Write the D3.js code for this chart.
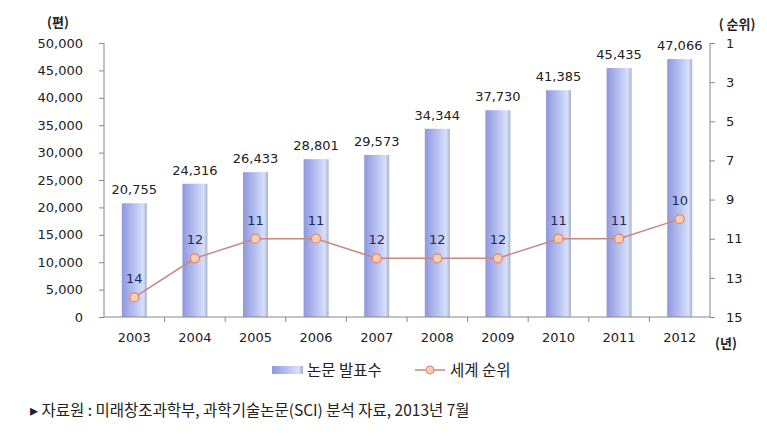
<!DOCTYPE html>
<html>
<head>
<meta charset="utf-8">
<script src="https://cdn.jsdelivr.net/npm/d3@7"></script>
<style>
  body { margin: 0; background: #fff; }
  svg { font-family: "DejaVu Sans", "Noto Sans CJK KR", sans-serif; }
  .axis text { font-size: 13px; fill: #222; font-family: "DejaVu Sans", sans-serif; }
  .axis path, .axis line { stroke: #888; }
  .kr { font-family: "Noto Sans CJK KR", sans-serif; }
</style>
</head>
<body>
<svg id="chart" width="767" height="437"></svg>
<script>
var years  = ["2003", "2004", "2005", "2006", "2007", "2008", "2009", "2010", "2011", "2012"];
var papers = [20755, 24316, 26433, 28801, 29573, 34344, 37730, 41385, 45435, 47066];
var ranks  = [14, 12, 11, 11, 12, 12, 12, 11, 11, 10];
var leftTicks  = [0, 5000, 10000, 15000, 20000, 25000, 30000, 35000, 40000, 45000, 50000];
var rightTicks = [1, 3, 5, 7, 9, 11, 13, 15];

var svg = d3.select("#chart");
var plotLeft = 104, plotRight = 710, plotTop = 43, plotBottom = 317;

var x = d3.scaleBand().domain(years).range([plotLeft, plotRight]);
var yL = d3.scaleLinear().domain([0, 50000]).range([plotBottom, plotTop]);
var yR = d3.scaleLinear().domain([15, 1]).range([plotBottom, plotTop]);

var defs = svg.append("defs");
var grad = defs.append("linearGradient").attr("id", "barGrad")
  .attr("x1", "0%").attr("x2", "100%").attr("y1", "0%").attr("y2", "0%");
grad.append("stop").attr("offset", "0%").attr("stop-color", "#8f98dc");
grad.append("stop").attr("offset", "45%").attr("stop-color", "#b4bdf0");
grad.append("stop").attr("offset", "85%").attr("stop-color", "#d6e0fa");
grad.append("stop").attr("offset", "100%").attr("stop-color", "#a9b2c4");

var barW = 25;
function cx(i) { return x(years[i]) + x.bandwidth() / 2; }

// bars
svg.append("g").selectAll("rect")
  .data(papers)
  .enter().append("rect")
  .attr("x", function(d, i) { return cx(i) - barW / 2; })
  .attr("y", function(d) { return yL(d); })
  .attr("width", barW)
  .attr("height", function(d) { return plotBottom - yL(d); })
  .attr("fill", "url(#barGrad)");

// bar value labels
svg.append("g").selectAll("text")
  .data(papers)
  .enter().append("text")
  .attr("x", function(d, i) { return cx(i); })
  .attr("y", function(d) { return yL(d) - 9; })
  .attr("text-anchor", "middle")
  .style("font-size", "13px")
  .attr("fill", "#222")
  .text(function(d) { return d3.format(",")(d); });

// axes
svg.append("g")
  .attr("class", "axis")
  .attr("transform", "translate(" + plotLeft + ",0)")
  .call(d3.axisLeft(yL).tickValues(leftTicks).tickFormat(d3.format(",")).tickSize(5).tickPadding(16))
  .call(function(g) { g.select(".domain").attr("d", "M0," + plotTop + "V" + plotBottom); });

svg.append("g")
  .attr("class", "axis")
  .attr("transform", "translate(" + plotRight + ",0)")
  .call(d3.axisRight(yR).tickValues(rightTicks).tickSize(5).tickPadding(11))
  .call(function(g) { g.select(".domain").attr("d", "M0," + plotTop + "V" + plotBottom); });

var xAxis = svg.append("g")
  .attr("class", "axis")
  .attr("transform", "translate(0," + plotBottom + ")")
  .call(d3.axisBottom(x).tickSize(0).tickPadding(16));
xAxis.select(".domain").attr("d", "M" + plotLeft + ",0H" + plotRight);
xAxis.selectAll(".sep")
  .data(years.slice(1))
  .enter().append("line")
  .attr("class", "sep")
  .attr("x1", function(d) { return x(d); })
  .attr("x2", function(d) { return x(d); })
  .attr("y1", 0).attr("y2", 5)
  .attr("stroke", "#888");

// rank line
var line = d3.line()
  .x(function(d, i) { return cx(i); })
  .y(function(d) { return yR(d); });

svg.append("path")
  .datum(ranks)
  .attr("fill", "none")
  .attr("stroke", "#c98683")
  .attr("stroke-width", 1.5)
  .attr("d", line);

svg.append("g").selectAll("circle")
  .data(ranks)
  .enter().append("circle")
  .attr("cx", function(d, i) { return cx(i); })
  .attr("cy", function(d) { return yR(d); })
  .attr("r", 4.5)
  .attr("fill", "#fbcdb0")
  .attr("stroke", "#e0876a")
  .attr("stroke-width", 1.2);

svg.append("g").selectAll("text")
  .data(ranks)
  .enter().append("text")
  .attr("x", function(d, i) { return cx(i); })
  .attr("y", function(d) { return yR(d) - 14; })
  .attr("text-anchor", "middle")
  .style("font-size", "13px")
  .attr("fill", "#1f2a55")
  .text(function(d) { return d; });

// unit labels
svg.append("text").attr("class", "kr").attr("x", 58).attr("y", 27).attr("text-anchor", "middle")
  .style("font-size", "13px").style("font-weight", "bold").attr("fill", "#222").text("(편)");
svg.append("text").attr("class", "kr").attr("x", 737).attr("y", 29).attr("text-anchor", "middle")
  .style("font-size", "13px").style("font-weight", "bold").attr("fill", "#222").text("( 순위)");
svg.append("text").attr("class", "kr").attr("x", 726).attr("y", 348).attr("text-anchor", "middle")
  .style("font-size", "13px").style("font-weight", "bold").attr("fill", "#222").text("(년)");

// legend
var lg = svg.append("g").attr("class", "kr").attr("transform", "translate(0,370)");
lg.append("rect").attr("x", 272).attr("y", -4).attr("width", 31).attr("height", 8)
  .attr("fill", "url(#barGrad)");
lg.append("text").attr("x", 307).attr("y", 5.5).style("font-size", "15.5px").attr("fill", "#222").text("논문 발표수");
lg.append("line").attr("x1", 415).attr("x2", 445).attr("y1", 0).attr("y2", 0)
  .attr("stroke", "#c98683").attr("stroke-width", 1.5);
lg.append("circle").attr("cx", 430).attr("cy", 0).attr("r", 4)
  .attr("fill", "#fbcdb0").attr("stroke", "#e0876a");
lg.append("text").attr("x", 450).attr("y", 5.5).style("font-size", "15.5px").attr("fill", "#222").text("세계 순위");

// source
svg.append("text").attr("class", "kr").attr("x", 30).attr("y", 416).style("font-size", "15.5px").attr("fill", "#222")
  .text("▸ 자료원 : 미래창조과학부, 과학기술논문(SCI) 분석 자료, 2013년 7월");
</script>
</body>
</html>
